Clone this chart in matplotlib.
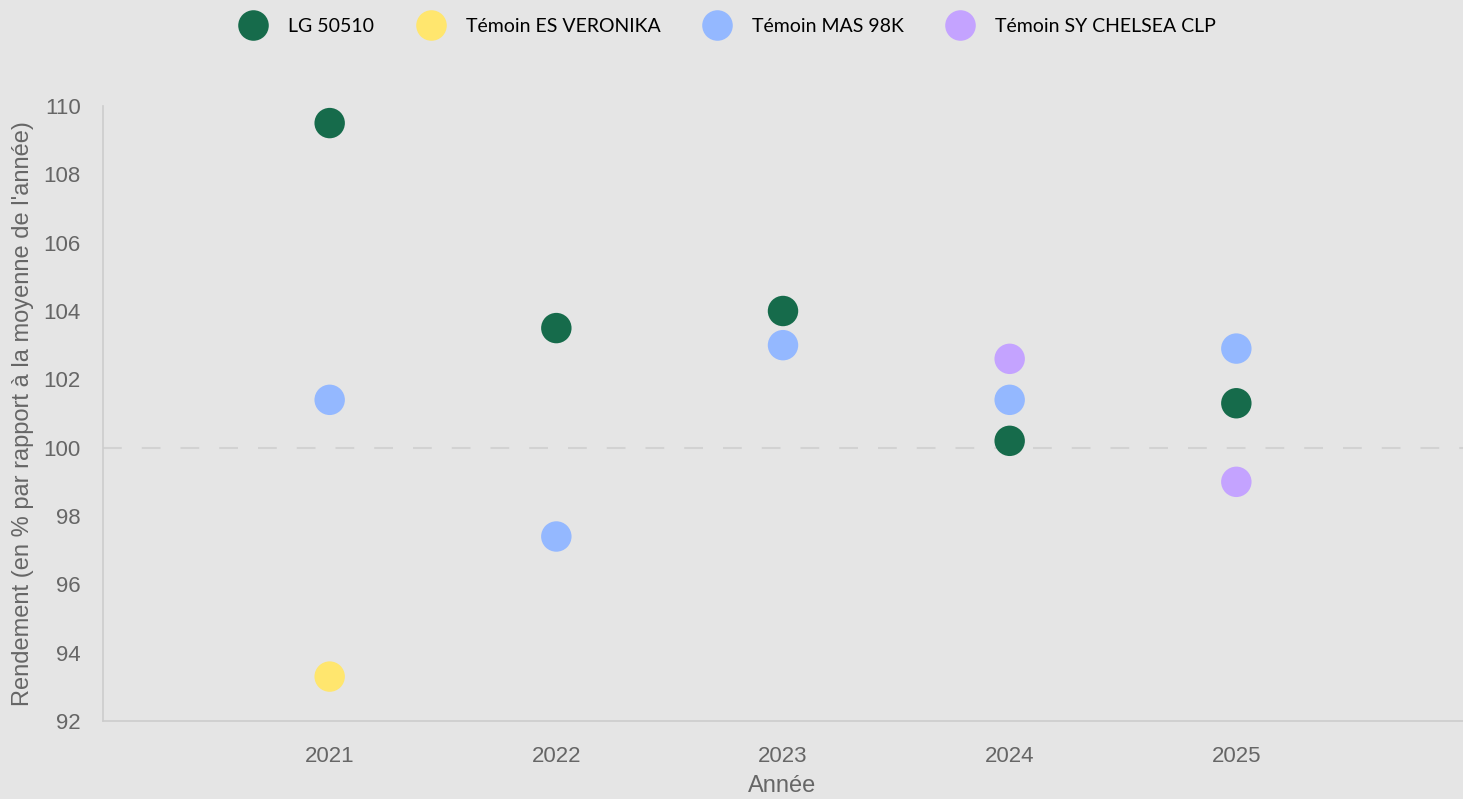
import matplotlib
matplotlib.use("Agg")
from matplotlib import pyplot as plt
from matplotlib.lines import Line2D

# data
years = [2021, 2022, 2023, 2024, 2025]
series_names = ["LG 50510", "Témoin ES VERONIKA", "Témoin MAS 98K", "Témoin SY CHELSEA CLP"]
colors = ["#166b4b", "#ffe66e", "#94b8ff", "#c4a3ff"]

lg_years = [2021, 2022, 2023, 2024, 2025]
lg_vals = [109.5, 103.5, 104.0, 100.2, 101.3]

veronika_years = [2021]
veronika_vals = [93.3]

mas_years = [2021, 2022, 2023, 2024, 2025]
mas_vals = [101.4, 97.4, 103.0, 101.4, 102.9]

chelsea_years = [2024, 2025]
chelsea_vals = [102.6, 99.0]

yticks = list(range(92, 111, 2))

bg = "#e5e5e5"
fig = plt.figure(figsize=(14.63, 7.99), dpi=100, facecolor=bg)
ax = fig.add_axes([103/1463, 1-721/799, 1-103/1463, (721-106)/799])
ax.set_facecolor(bg)

ax.axhline(100, color="#d2d2d2", lw=1.5, dashes=(9, 9.6), zorder=1)

all_data = [(lg_years, lg_vals), (veronika_years, veronika_vals),
            (mas_years, mas_vals), (chelsea_years, chelsea_vals)]
for (xs, ys), c in zip(all_data, colors):
    ax.scatter(xs, ys, s=480, color=c, edgecolors="none", zorder=3)

ax.set_xlim(2020, 2026)
ax.set_ylim(92, 110)
ax.set_xticks(years)
ax.set_xticklabels([str(y) for y in years])
ax.set_yticks(yticks)
ax.tick_params(length=0, labelsize=16, labelcolor="#666666",
               labelfontfamily="Liberation Sans")
ax.tick_params(axis="y", pad=16)
ax.tick_params(axis="x", pad=18)

for s in ["top", "right"]:
    ax.spines[s].set_visible(False)
for s in ["left", "bottom"]:
    ax.spines[s].set_color("#cccccc")
    ax.spines[s].set_linewidth(1.2)

ax.set_ylabel("Rendement (en % par rapport à la moyenne de l'année)", fontsize=17,
              color="#666666", family="Liberation Sans")
ax.yaxis.set_label_coords(-0.0505, 0.5)
ax.set_xlabel("Année", fontsize=17, color="#666666", family="Liberation Sans")
ax.xaxis.set_label_coords((782-103)/1360, -0.087)

handles = [Line2D([], [], marker="o", ls="none", markersize=22, markerfacecolor=c,
                  markeredgecolor="none") for c in colors]
fig.legend(handles, series_names, loc="center", bbox_to_anchor=(725/1463, 1-26/799),
           ncol=4, frameon=False, prop={"family": "Lato", "size": 14},
           handletextpad=0.8, columnspacing=1.9)

fig.savefig("out.png", dpi=100, facecolor=bg)
